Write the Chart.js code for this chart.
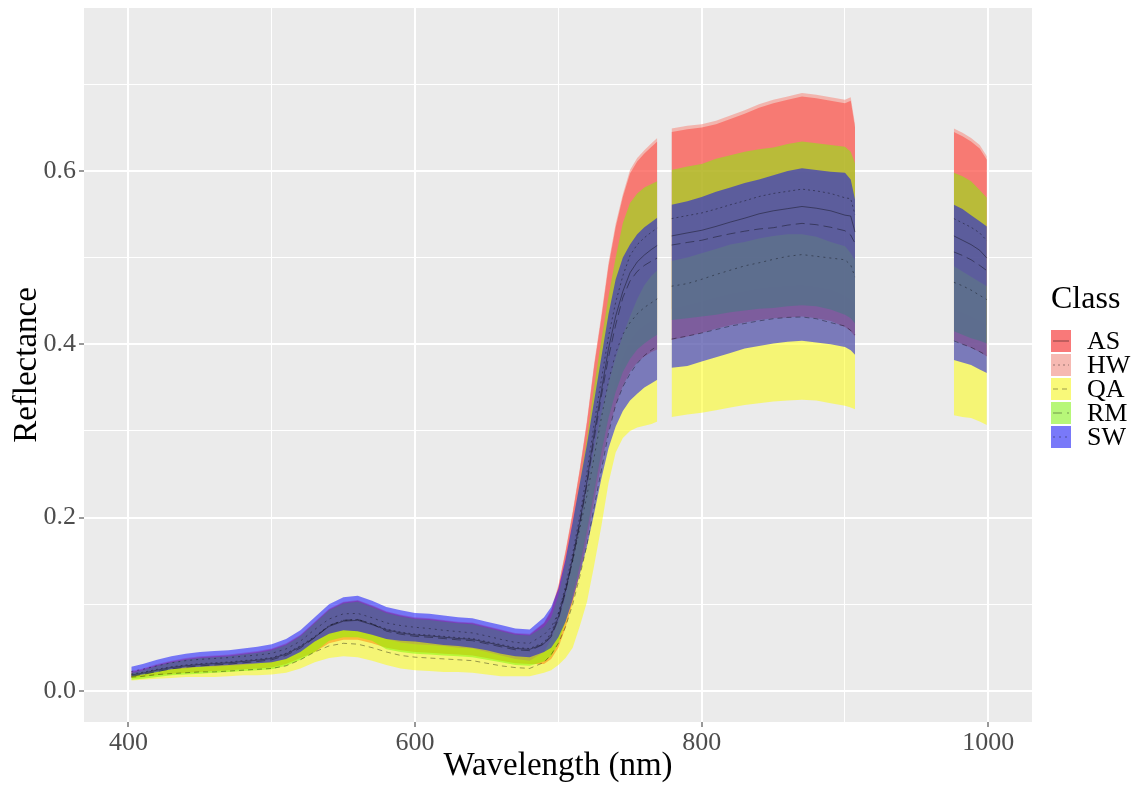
<!DOCTYPE html>
<html>
<head>
<meta charset="utf-8">
<title>Reflectance por clase</title>
<script src="https://cdn.jsdelivr.net/npm/chart.js@4.4.1/dist/chart.umd.min.js"></script>
<style>
  body { margin: 0; background: #ffffff; }
  #grafico { display: block; }
</style>
</head>
<body>
<canvas id="grafico" width="1136" height="786"></canvas>
<script>
// DATOS: longitud de onda (nm), null = hueco entre sensores
const wavelength = [402,410,420,430,440,450,460,470,480,490,500,510,520,530,540,550,560,570,580,590,600,610,620,630,640,650,660,670,680,690,
  695,700,705,710,715,720,725,730,735,740,745,750,755,760,765,769,
  774,
  779,790,800,810,820,830,840,850,860,870,880,890,900,904,907,
  940,
  976,982,988,994,999];

const asMean = [.0185,.0205,.024,.027,.029,.0305,.0315,.0325,.034,.0355,.0375,.0425,.051,.062,.0745,.0805,.0815,.0765,.0705,.067,.0645,.0635,.062,.0605,.0595,.056,.0525,.049,.048,.0545,
  .0645,.085,.1165,.1535,.1955,.2425,.2975,.346,.395,.4325,.461,.4825,.495,.503,.5095,.514,
  null,
  .525,.5285,.5315,.536,.541,.5455,.5505,.554,.5565,.559,.557,.554,.549,.548,.5295,
  null,
  .525,.520,.515,.5085,.4995];
const asSd = [.0035,.0045,.006,.007,.008,.0085,.0085,.0085,.009,.0095,.0105,.0115,.013,.017,.0195,.0215,.0225,.0215,.0205,.020,.0195,.0195,.019,.0185,.0185,.018,.0175,.017,.017,.0235,
  .0275,.035,.0435,.0515,.0595,.0675,.0775,.084,.095,.1025,.109,.1145,.116,.117,.1185,.120,
  null,
  .120,.1195,.1185,.118,.119,.1205,.1225,.124,.1255,.127,.127,.127,.129,.133,.1205,
  null,
  .120,.120,.119,.1175,.1135];

const hwMean = [.0195,.0215,.025,.028,.030,.0315,.0325,.0335,.035,.0365,.0385,.0435,.052,.063,.0755,.0815,.0825,.0775,.0715,.068,.0655,.0645,.063,.0615,.0605,.057,.0535,.050,.049,.056,
  .067,.089,.121,.159,.202,.2525,.3085,.359,.409,.4485,.479,.5025,.515,.523,.5295,.534,
  null,
  .545,.5485,.5515,.556,.561,.5655,.5705,.574,.5765,.579,.577,.574,.569,.568,.5495,
  null,
  .545,.540,.535,.5285,.5195];
const hwSd = [.0035,.0045,.006,.007,.008,.0085,.0085,.0085,.009,.0095,.0105,.0115,.013,.017,.0195,.0215,.0225,.0215,.0205,.020,.0195,.0195,.019,.0185,.0185,.018,.0175,.017,.017,.023,
  .027,.033,.041,.048,.055,.0605,.0695,.075,.085,.0905,.094,.0985,.100,.101,.1025,.104,
  null,
  .104,.1035,.1025,.102,.103,.1045,.1065,.108,.1095,.111,.111,.111,.113,.117,.1045,
  null,
  .104,.104,.103,.1015,.0975];

const qaMean = [.016,.017,.019,.020,.021,.022,.022,.023,.024,.025,.026,.029,.036,.045,.052,.055,.054,.050,.045,.041,.039,.038,.037,.036,.035,.032,.029,.027,.026,.033,
  .042,.055,.074,.100,.1325,.169,.2125,.255,.2975,.330,.351,.366,.378,.387,.3935,.398,
  null,
  .406,.4095,.413,.417,.421,.424,.427,.4295,.431,.4315,.4295,.425,.421,.416,.411,
  null,
  .404,.400,.3965,.3915,.387];
const qaSd = [.004,.004,.005,.005,.005,.006,.006,.006,.006,.007,.007,.008,.010,.012,.014,.015,.015,.015,.015,.015,.015,.015,.015,.014,.014,.013,.012,.010,.009,.012,
  .018,.025,.036,.050,.0575,.066,.0675,.065,.0575,.055,.059,.066,.074,.081,.0855,.087,
  null,
  .090,.0905,.092,.093,.094,.094,.095,.0955,.096,.0955,.0945,.093,.092,.089,.086,
  null,
  .086,.084,.0815,.0805,.080];

const rmMean = [.017,.019,.0225,.0255,.0275,.029,.030,.031,.0325,.034,.036,.041,.0495,.0615,.0755,.0815,.0825,.0775,.069,.0655,.063,.062,.0605,.059,.058,.0545,.051,.0475,.0465,.054,
  .0625,.0825,.114,.151,.1925,.2385,.291,.340,.385,.4225,.454,.473,.484,.491,.496,.4995,
  null,
  .5145,.5175,.520,.524,.5275,.5305,.533,.5345,.5375,.5395,.538,.535,.531,.526,.5165,
  null,
  .5065,.5025,.4975,.491,.485];
const rmSd = [.004,.005,.0065,.0075,.0085,.009,.009,.009,.0095,.010,.011,.012,.0135,.0165,.0175,.0195,.0205,.0195,.021,.0205,.020,.020,.0195,.019,.019,.0185,.018,.0175,.0175,.020,
  .0225,.0275,.034,.041,.0475,.0535,.061,.065,.070,.0775,.086,.090,.090,.090,.089,.0885,
  null,
  .0865,.0875,.088,.090,.0905,.0915,.092,.0925,.0935,.0945,.094,.095,.097,.096,.0925,
  null,
  .0915,.0915,.0905,.087,.084];

const swMean = [.0225,.025,.029,.0325,.035,.0365,.0375,.0385,.040,.0415,.0435,.0485,.0575,.071,.083,.089,.0895,.0845,.0785,.0755,.0735,.072,.070,.0685,.067,.0635,.0595,.056,.055,.065,
  .0735,.090,.116,.150,.1875,.226,.270,.315,.3575,.390,.4115,.425,.435,.4425,.448,.4525,
  null,
  .467,.470,.475,.4805,.4855,.4905,.494,.498,.5015,.5035,.5015,.4995,.4975,.4915,.4775,
  null,
  .4715,.4675,.4625,.4565,.4515];
const swSd = [.0055,.006,.007,.0075,.008,.0085,.0085,.0085,.009,.0095,.0105,.0115,.0125,.014,.017,.019,.0205,.0195,.0185,.0175,.0165,.017,.017,.0165,.017,.0165,.0165,.016,.016,.020,
  .0235,.028,.036,.045,.0525,.059,.065,.070,.0775,.085,.0885,.090,.092,.0925,.093,.0935,
  null,
  .094,.095,.095,.0955,.0955,.0955,.096,.097,.0985,.0995,.0995,.0995,.1005,.0985,.0895,
  null,
  .0895,.0885,.0865,.0855,.0845];

const classNames = ["AS", "HW", "QA", "RM", "SW"];
const xTicks = [400, 600, 800, 1000];
const yTicks = [0.0, 0.2, 0.4, 0.6];

// ESTILOS
const fillColors = [
  "rgba(255, 0, 0, 0.5)",
  "rgba(250, 128, 114, 0.5)",
  "rgba(255, 255, 0, 0.5)",
  "rgba(124, 252, 0, 0.5)",
  "rgba(0, 0, 255, 0.5)",
];
const lineDashes = [[], [2, 3], [5, 4], [9, 5], [2, 4]];
const lineColor = "rgba(0, 0, 0, 0.38)";

const medias = [asMean, hwMean, qaMean, rmMean, swMean];
const desvios = [asSd, hwSd, qaSd, rmSd, swSd];

const aPuntos = (valores) => wavelength.map((w, i) => ({ x: w, y: valores[i] }));

const esMayorX = (v) => xTicks.some((t) => Math.abs(t - v) < 1e-6);
const esMayorY = (v) => yTicks.some((t) => Math.abs(t - v) < 1e-6);

// Bandas media +- desvio, AS abajo y SW arriba
const datasets = [];
classNames.forEach((nombre, k) => {
  const inferior = medias[k].map((m, i) => (m === null ? null : m - desvios[k][i]));
  const superior = medias[k].map((m, i) => (m === null ? null : m + desvios[k][i]));
  datasets.push({
    label: nombre + " min",
    data: aPuntos(inferior),
    borderColor: "transparent",
    borderWidth: 0,
    pointRadius: 0,
    fill: false,
    order: 51 - k * 10,
  });
  datasets.push({
    label: nombre,
    data: aPuntos(superior),
    borderColor: "transparent",
    borderWidth: 0,
    pointRadius: 0,
    backgroundColor: fillColors[k],
    fill: "-1",
    order: 50 - k * 10,
  });
});
// Lineas de la media encima de todas las bandas
classNames.forEach((nombre, k) => {
  datasets.push({
    label: nombre + " media",
    data: aPuntos(medias[k]),
    borderColor: lineColor,
    borderWidth: 1,
    borderDash: lineDashes[k],
    pointRadius: 0,
    fill: false,
    order: 5 - k,
  });
});

// Fondo gris del panel (estilo ggplot)
const fondoPanel = {
  id: "fondoPanel",
  beforeDraw(chart) {
    const { ctx, chartArea: a } = chart;
    ctx.save();
    ctx.fillStyle = "#FFFFFF";
    ctx.fillRect(0, 0, chart.width, chart.height);
    ctx.fillStyle = "#EBEBEB";
    ctx.fillRect(a.left, a.top, a.right - a.left, a.bottom - a.top);
    ctx.restore();
  },
};

// Leyenda "Class" a la derecha
const leyendaClase = {
  id: "leyendaClase",
  afterDraw(chart) {
    const ctx = chart.ctx;
    const x0 = chart.chartArea.right + 19;
    ctx.save();
    ctx.textBaseline = "middle";
    ctx.textAlign = "left";
    ctx.fillStyle = "#000000";
    ctx.font = '32px "Liberation Serif", serif';
    ctx.fillText("Class", x0, 300);
    ctx.font = '26px "Liberation Serif", serif';
    classNames.forEach((nombre, k) => {
      const y = 330 + k * 24;
      ctx.fillStyle = "#F2F2F2";
      ctx.fillRect(x0, y, 20, 22);
      ctx.fillStyle = fillColors[k];
      ctx.fillRect(x0, y, 20, 22);
      ctx.strokeStyle = lineColor;
      ctx.lineWidth = 1.2;
      ctx.setLineDash(lineDashes[k]);
      ctx.beginPath();
      ctx.moveTo(x0 + 2, y + 11);
      ctx.lineTo(x0 + 18, y + 11);
      ctx.stroke();
      ctx.setLineDash([]);
      ctx.fillStyle = "#000000";
      ctx.fillText(nombre, x0 + 36, y + 12);
    });
    ctx.restore();
  },
};

Chart.defaults.font.family = '"Liberation Serif", "Times New Roman", serif';

const ctx = document.getElementById("grafico");
new Chart(ctx, {
  type: "line",
  data: { datasets: datasets },
  plugins: [fondoPanel, leyendaClase],
  options: {
    responsive: false,
    animation: false,
    spanGaps: false,
    layout: { padding: { left: 0, right: 104, top: 8, bottom: 0 } },
    plugins: {
      legend: { display: false },
      tooltip: { enabled: false },
      filler: { propagate: false },
    },
    scales: {
      x: {
        type: "linear",
        min: 369,
        max: 1030.5,
        border: { display: false },
        grid: {
          color: "#FFFFFF",
          lineWidth: (c) => (c.tick && esMayorX(c.tick.value) ? 2 : 1),
          tickColor: (c) => (c.tick && esMayorX(c.tick.value) ? "#333333" : "rgba(0,0,0,0)"),
          tickLength: 5,
          tickWidth: 1,
        },
        ticks: {
          stepSize: 100,
          includeBounds: false,
          autoSkip: false,
          maxRotation: 0,
          padding: 1,
          color: "#4D4D4D",
          font: { size: 26 },
          callback: (v) => (esMayorX(v) ? String(v) : ""),
        },
        title: {
          display: true,
          text: "Wavelength (nm)",
          color: "#000000",
          font: { size: 33 },
          padding: { top: 0, bottom: 0 },
        },
        afterFit: (escala) => {
          escala.height = 64;
          escala.paddingLeft = 0;
          escala.paddingRight = 0;
        },
      },
      y: {
        type: "linear",
        min: -0.0358,
        max: 0.788,
        border: { display: false },
        grid: {
          color: "#FFFFFF",
          lineWidth: (c) => (c.tick && esMayorY(c.tick.value) ? 2 : 1),
          tickColor: (c) => (c.tick && esMayorY(c.tick.value) ? "#333333" : "rgba(0,0,0,0)"),
          tickLength: 5,
          tickWidth: 1,
        },
        ticks: {
          stepSize: 0.1,
          includeBounds: false,
          autoSkip: false,
          padding: 3,
          color: "#4D4D4D",
          font: { size: 26 },
          callback: (v) => (esMayorY(v) ? v.toFixed(1) : ""),
        },
        title: {
          display: true,
          text: "Reflectance",
          color: "#000000",
          font: { size: 33 },
          padding: { top: 8, bottom: 0 },
        },
        afterFit: (escala) => {
          escala.width = 84;
          escala.paddingTop = 0;
          escala.paddingBottom = 0;
        },
      },
    },
  },
});
</script>
</body>
</html>
